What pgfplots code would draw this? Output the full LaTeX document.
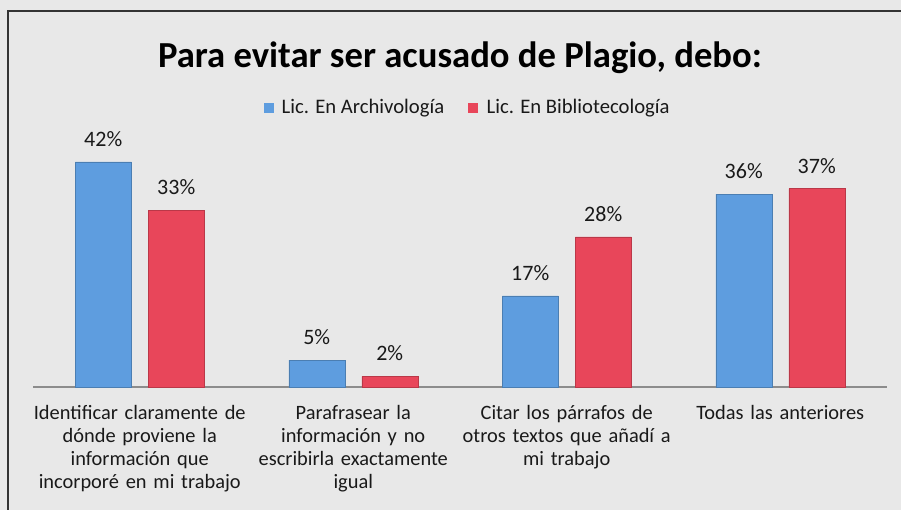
\documentclass[border=0pt]{standalone}
\usepackage{pgfplots}
\pgfplotsset{compat=1.18}
\usepackage{fontspec}
\setmainfont{Carlito}
\definecolor{bgc}{HTML}{E8E8E8}
\definecolor{barblue}{HTML}{5E9DDF}
\definecolor{barred}{HTML}{E8465A}
\definecolor{basec}{HTML}{8C8C8C}
\begin{document}
\begin{tikzpicture}[x=0.75pt,y=0.75pt]
\useasboundingbox (0,0) rectangle (901,510);
\fill[bgc] (0,0) rectangle (901,510);
\draw[black!80,line width=0.8pt] (8,-5) -- (8,499) -- (910,499);
\node[font=\bfseries\fontsize{27.5}{32}\selectfont] at (460,452) {Para evitar ser acusado de Plagio, debo:};
\node[font=\fontsize{15.5}{18}\selectfont, text=black!90, anchor=west] (l1) at (277,402) {Lic. En Archivología};
\fill[barblue] (264,397) rectangle (274,407);
\node[font=\fontsize{15.5}{18}\selectfont, text=black!90, anchor=west] (l2) at (482,402) {Lic. En Bibliotecología};
\fill[barred] (468,397) rectangle (478,407);
\begin{axis}[
  at={(24.75pt,92.25pt)}, anchor=south west,
  scale only axis,
  width=640.5pt, height=201pt,
  xmin=-0.5, xmax=3.5, ymin=0, ymax=50,
  ybar=12.75pt, bar width=42pt,
  axis y line=none,
  axis x line*=bottom,
  x axis line style={basec,line width=0.8pt,-},
  xtick={0,1,2,3}, major tick length=0pt,
  xticklabels={{Identificar claramente de\\dónde proviene la\\información que\\incorporé en mi trabajo},
               {Parafrasear la\\información y no\\escribirla exactamente\\igual},
               {Citar los párrafos de\\otros textos que añadí a\\mi trabajo},
               {Todas las anteriores}},
  xticklabel style={align=center, text width=170pt, font=\fontsize{15.3}{17.4}\selectfont, text=black!90, yshift=-10pt},
  /pgf/number format/assume math mode=true,
  nodes near coords={\pgfmathprintnumber{\pgfplotspointmeta}\%},
  nodes near coords style={font=\fontsize{16.5}{18}\selectfont, text=black!90, yshift=8pt},
  clip=false,
]
\addplot[fill=barblue, draw=barblue!80!black, line width=0.3pt] coordinates {(0,42) (1,5) (2,17) (3,36)};
\addplot[fill=barred, draw=barred!80!black, line width=0.3pt] coordinates {(0,33) (1,2) (2,28) (3,37)};
\end{axis}
\end{tikzpicture}
\end{document}
